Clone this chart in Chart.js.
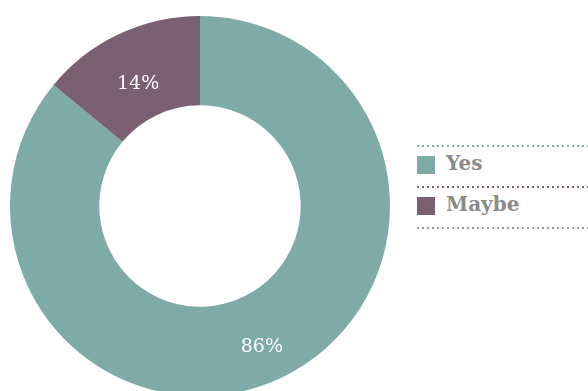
<!DOCTYPE html>
<html>
<head>
<meta charset="utf-8">
<script src="https://cdn.jsdelivr.net/npm/chart.js@4.4.0/dist/chart.umd.min.js"></script>
<style>
  html, body { margin: 0; padding: 0; background: #fff; overflow: hidden; }
  body { width: 588px; height: 391px; position: relative; }
  #wrap { position: absolute; left: 10px; top: 16px; width: 380px; height: 380px; }
  #legend { position: absolute; left: 417px; top: 145px; width: 171px; }
  .item { position: relative; height: 41px; }
  .dots { position: absolute; left: 0; right: 0; top: 0; height: 2px; }
  .sw { position: absolute; left: 0; top: 11px; width: 18px; height: 18px; }
  .lbl { position: absolute; left: 29px; top: 6px; font: bold 20px "DejaVu Serif", serif; color: #8a8a8a; }
</style>
</head>
<body>
<div id="wrap"><canvas id="c" width="380" height="380"></canvas></div>
<div id="legend"></div>
<script>
// donut: share of answers
const labels = ["Yes", "Maybe"];
const values = [86, 14];
const colors = ["#7eaaa8", "#7a6073"];
const endLine = "#a0a0a0";

const $ = (id) => document.getElementById(id);

function dotted(color) {
  return `repeating-linear-gradient(to right, ${color} 0 2px, transparent 2px 5px)`;
}

// legend with dotted separators
function renderLegend() {
  const box = $("legend");
  labels.forEach((name, i) => {
    const it = document.createElement("div");
    it.className = "item";
    const d = document.createElement("div");
    d.className = "dots";
    d.style.backgroundImage = dotted(colors[i]);
    const sw = document.createElement("div");
    sw.className = "sw";
    sw.style.background = colors[i];
    const t = document.createElement("div");
    t.className = "lbl";
    t.textContent = name;
    it.append(d, sw, t);
    box.appendChild(it);
  });
  const last = document.createElement("div");
  last.className = "dots";
  last.style.position = "relative";
  last.style.backgroundImage = dotted(endLine);
  box.appendChild(last);
}

// percent labels inside each arc (text hangs just below the arc centre)
const pctLabels = {
  id: "pctLabels",
  afterDatasetsDraw(chart) {
    const ctx = chart.ctx;
    const meta = chart.getDatasetMeta(0);
    ctx.save();
    ctx.fillStyle = "#ffffff";
    ctx.font = '19px "DejaVu Serif", serif';
    ctx.textAlign = "center";
    ctx.textBaseline = "top";
    meta.data.forEach((arc, i) => {
      const p = arc.getCenterPoint();
      ctx.fillText(values[i] + "%", p.x, p.y);
    });
    ctx.restore();
  },
};

new Chart($("c").getContext("2d"), {
  type: "doughnut",
  data: {
    labels,
    datasets: [{ data: values, backgroundColor: colors, borderWidth: 0 }],
  },
  options: {
    responsive: false,
    animation: false,
    cutout: "53%",
    layout: { padding: 0 },
    plugins: { legend: { display: false }, tooltip: { enabled: false } },
  },
  plugins: [pctLabels],
});

renderLegend();
</script>
</body>
</html>
